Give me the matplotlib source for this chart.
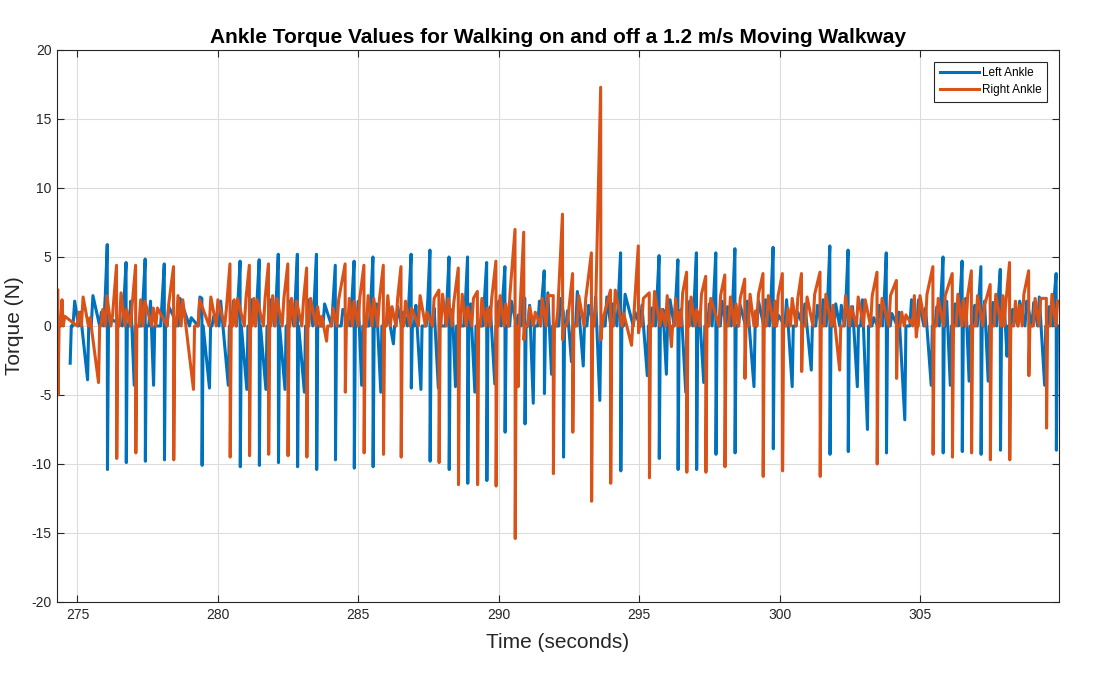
import numpy as np
import matplotlib.pyplot as plt

plt.rcParams['font.family'] = ['Liberation Sans', 'DejaVu Sans']
plt.rcParams['axes.unicode_minus'] = False

# Left ankle: big strokes (time, top, bottom), small dips, positive humps
left_spike_t = [276.06, 276.73, 277.41, 278.09, 279.43, 280.79, 281.47, 282.15, 282.83,
                283.51, 284.18, 284.85, 285.52, 286.88, 287.55, 288.23, 288.89, 289.57,
                290.22, 290.93, 291.62, 292.30, 294.34, 295.71, 296.38, 297.04, 297.73,
                298.41, 299.77, 301.79, 302.44, 303.80, 305.82, 306.50, 307.17, 307.86,
                309.85]
left_spike_top = [5.9, 4.6, 4.85, 4.5, 2.0, 4.7, 4.8, 5.2, 5.2,
                  5.2, 4.4, 4.7, 5.0, 5.2, 5.5, 5.0, 5.0, 4.6,
                  4.3, 2.0, 4.0, 1.0, 5.3, 5.1, 4.8, 5.3, 5.3,
                  5.6, 5.7, 5.8, 5.5, 5.3, 5.0, 4.7, 4.3, 4.1,
                  3.8]
left_spike_bot = [-10.4, -9.9, -9.8, -9.7, -10.1, -10.2, -10.1, -9.9, -10.2,
                  -10.4, -9.7, -10.3, -10.2, -4.5, -9.8, -10.4, -11.4, -11.2,
                  -7.7, -7.1, -4.9, -9.5, -10.5, -9.6, -10.4, -10.4, -9.3,
                  -9.2, -8.9, -9.3, -9.1, -9.2, -9.2, -9.1, -9.3, -9.0,
                  -9.0]
left_dip_t = [274.74, 275.36, 277.02, 277.71, 279.70, 280.37, 281.03, 281.71, 282.39,
              283.08, 285.12, 285.80, 286.25, 287.23, 287.85, 288.46, 289.15, 289.86,
              291.23, 291.88, 292.59, 293.01, 293.60, 295.29, 295.97, 296.66, 297.30,
              299.09, 300.45, 301.13, 302.77, 303.13, 304.46, 305.40, 306.08, 306.75,
              307.43, 308.10, 309.44]
left_dip_v = [-2.7, -3.9, -4.3, -4.3, -4.5, -4.3, -4.6, -4.6, -4.6,
              -4.8, -4.3, -4.8, -1.3, -4.6, -4.5, -4.4, -4.8, -4.2,
              -5.6, -3.5, -2.6, -2.9, -5.4, -3.6, -3.5, -4.8, -4.1,
              -4.4, -4.4, -3.2, -4.4, -7.5, -6.8, -4.3, -4.3, -4.0,
              -4.0, -2.2, -4.3]
left_hump_t = [274.90, 275.10, 275.55, 275.85, 275.99, 276.20, 276.66, 276.90, 277.34,
               277.60, 278.02, 278.25, 278.65, 279.05, 279.36, 279.85, 280.10, 280.55,
               280.72, 281.20, 281.40, 281.88, 282.08, 282.55, 282.76, 283.25, 283.44,
               283.80, 284.11, 284.45, 284.78, 285.00, 285.45, 285.65, 286.05, 286.40,
               286.60, 286.81, 287.05, 287.48, 287.70, 288.16, 288.35, 288.82, 289.00,
               289.50, 289.70, 290.00, 290.15, 290.45, 290.70, 290.86, 291.10, 291.45,
               291.55, 291.75, 292.20, 292.45, 292.80, 293.20, 293.45, 293.85, 294.05,
               294.27, 294.50, 294.85, 295.10, 295.45, 295.64, 295.85, 296.10, 296.31,
               296.50, 296.80, 296.97, 297.15, 297.50, 297.66, 297.95, 298.15, 298.34,
               298.60, 298.85, 299.25, 299.50, 299.70, 299.95, 300.25, 300.65, 300.90,
               301.35, 301.55, 301.72, 302.00, 302.20, 302.37, 302.60, 302.95, 303.35,
               303.55, 303.73, 304.00, 304.25, 304.70, 304.95, 305.20, 305.60, 305.75,
               305.95, 306.25, 306.43, 306.63, 306.95, 307.10, 307.30, 307.60, 307.79,
               308.00, 308.30, 308.55, 308.80, 309.05, 309.25, 309.60, 309.78]
left_hump_v = [1.8, 1.0, 2.2, 1.0, 2.2, 0.5, 2.0, 1.8, 2.1,
               1.8, 2.0, 1.4, 2.0, 0.6, 2.1, 0.7, 1.8, 1.8,
               2.0, 1.9, 2.1, 1.9, 2.1, 1.8, 2.1, 1.9, 2.2,
               1.6, 2.0, 1.2, 2.1, 1.8, 2.0, 1.6, 1.0, 1.4,
               1.0, 2.2, 1.5, 2.1, 1.3, 1.9, 1.2, 2.0, 1.6,
               2.2, 1.4, 1.8, 2.2, 1.8, 0.8, 2.1, 1.5, 1.8,
               2.2, 2.4, 2.0, 1.1, 2.5, 1.5, 2.1, 2.1, 1.6,
               2.3, 2.3, 1.0, 1.5, 1.3, 2.2, 1.2, 1.9, 2.1,
               1.2, 1.8, 2.2, 1.0, 1.6, 2.3, 1.8, 1.4, 2.1,
               1.5, 1.8, 1.8, 1.9, 2.2, 0.8, 1.9, 1.0, 1.6,
               1.5, 1.9, 2.2, 1.6, 1.5, 2.1, 1.4, 1.9, 0.6,
               1.5, 2.0, 0.9, 1.0, 1.9, 1.9, 1.3, 1.4, 2.1,
               1.8, 1.6, 2.1, 2.0, 1.5, 2.0, 1.8, 1.7, 2.0,
               1.6, 1.2, 1.8, 1.8, 1.7, 2.1, 1.4, 2.1]

# Right ankle
right_spike_t = [274.30, 276.39, 277.07, 278.42, 280.43, 281.12, 281.80, 282.49, 283.16,
                 284.53, 285.20, 285.89, 286.52, 287.87, 288.56, 289.24, 289.90, 290.58,
                 290.89, 291.94, 292.27, 292.63, 293.30, 293.63, 293.98, 294.97, 295.36,
                 296.69, 297.37, 298.05, 298.76, 299.41, 300.10, 300.78, 301.44, 303.47,
                 304.16, 305.46, 306.15, 306.83, 307.50, 308.19, 308.87, 309.50]
right_spike_top = [2.6, 4.4, 4.4, 4.3, 4.5, 4.4, 4.5, 4.5, 4.2,
                   4.5, 4.4, 4.4, 4.3, 2.6, 4.2, 2.5, 4.7, 7.0,
                   6.8, 2.2, 8.1, 3.8, 5.3, 17.3, 2.6, 5.8, 2.4,
                   3.9, 3.6, 3.7, 3.4, 3.8, 3.8, 3.8, 3.9, 3.9,
                   3.3, 4.3, 3.8, 4.0, 3.0, 4.6, 4.0, 2.0]
right_spike_bot = [-5.0, -9.6, -9.2, -9.7, -9.5, -9.4, -9.3, -9.4, -9.5,
                   -4.8, -9.2, -9.3, -9.5, -9.9, -11.5, -11.5, -11.6, -15.4,
                   -1.0, -10.7, -1.0, -7.7, -12.7, -1.0, -11.4, -0.5, -11.0,
                   -10.6, -10.6, -10.2, -3.8, -10.9, -10.5, -3.3, -10.9, -10.0,
                   -3.8, -9.3, -9.5, -9.2, -9.7, -9.7, -3.6, -7.4]
right_dip_t = [275.75, 279.13, 283.87, 290.69, 294.73, 296.15, 302.14, 304.87]
right_dip_v = [-4.1, -4.6, -1.1, -4.4, -1.4, -1.5, -3.2, -0.8]
right_hump_t = [274.45, 274.55, 275.05, 275.20, 275.45, 275.90, 276.05, 276.25, 276.55,
                276.75, 276.95, 277.25, 277.40, 277.70, 277.85, 278.25, 278.58, 278.75,
                279.35, 279.75, 280.00, 280.30, 280.58, 280.70, 281.00, 281.28, 281.40,
                281.68, 281.95, 282.10, 282.35, 282.62, 282.80, 283.05, 283.30, 283.55,
                283.70, 284.10, 284.30, 284.68, 284.85, 285.05, 285.35, 285.55, 285.75,
                286.05, 286.20, 286.40, 286.68, 286.90, 287.20, 287.45, 287.70, 288.00,
                288.20, 288.40, 288.70, 288.90, 289.10, 289.40, 289.60, 289.75, 290.05,
                290.25, 290.40, 291.10, 291.30, 291.55, 291.75, 292.10, 292.45, 292.85,
                293.10, 293.45, 293.75, 294.15, 294.45, 294.85, 295.15, 295.55, 295.80,
                296.00, 296.30, 296.45, 296.55, 296.85, 297.05, 297.22, 297.55, 297.90,
                298.25, 298.45, 298.60, 298.95, 299.15, 299.25, 299.60, 299.85, 299.95,
                300.30, 300.45, 300.65, 300.98, 301.25, 301.65, 301.90, 302.35, 302.55,
                302.80, 303.05, 303.30, 303.65, 303.95, 304.35, 304.50, 304.80, 305.00,
                305.25, 305.65, 305.90, 306.35, 306.55, 306.70, 307.05, 307.30, 307.70,
                307.95, 308.05, 308.40, 308.55, 308.70, 309.10, 309.30, 309.70, 309.90]
right_hump_v = [1.9, 0.7, 1.0, 2.1, 0.6, 1.2, 2.2, 0.8, 2.4,
                1.2, 1.6, 1.9, 1.8, 1.3, 1.3, 1.6, 2.2, 1.9,
                1.9, 2.1, 1.9, 1.2, 1.9, 2.0, 2.0, 2.0, 1.9,
                2.0, 2.2, 2.0, 2.0, 2.0, 1.8, 1.9, 2.0, 1.4,
                0.7, 1.3, 1.9, 2.0, 1.8, 2.0, 2.2, 2.0, 1.9,
                2.2, 1.4, 2.0, 1.8, 1.3, 2.2, 1.0, 2.0, 2.3,
                2.0, 1.7, 2.3, 1.4, 2.0, 2.0, 1.3, 2.0, 2.2,
                1.6, 2.3, 1.4, 1.0, 2.0, 2.2, 1.0, 0.3, 2.2,
                2.0, 1.2, 0.8, 2.6, 0.9, 2.0, 2.0, 2.5, 1.2,
                2.2, 2.0, 1.0, 2.4, 2.1, 1.2, 2.3, 2.0, 2.2,
                2.1, 1.6, 2.0, 2.3, 1.1, 2.3, 2.2, 1.8, 2.2,
                1.3, 2.0, 2.0, 2.1, 2.3, 2.3, 1.5, 2.2, 1.4,
                2.1, 1.9, 2.2, 2.0, 2.2, 1.0, 0.8, 2.2, 2.2,
                2.3, 2.0, 2.2, 2.3, 1.9, 2.2, 2.2, 1.5, 2.3,
                2.2, 1.5, 1.8, 1.5, 2.3, 2.0, 2.0, 2.3, 1.8]


def build_trace(spike_t, spike_top, spike_bot, dip_t, dip_v, hump_t, hump_v):
    # stroke = top then bottom, signal back at 0 right after strokes and dips,
    # humps rise from the 0 baseline
    spike_t = np.array(spike_t)
    dip_t = np.array(dip_t)
    hump_t = np.array(hump_t)
    t = np.concatenate([spike_t, spike_t + 0.008, spike_t + 0.045,
                        dip_t, dip_t + 0.04, hump_t - 0.06, hump_t])
    v = np.concatenate([spike_top, spike_bot, np.zeros(len(spike_t)),
                        dip_v, np.zeros(len(dip_t)), np.zeros(len(hump_t)), hump_v])
    order = np.argsort(t, kind='stable')
    return t[order], v[order]


lt, lv = build_trace(left_spike_t, left_spike_top, left_spike_bot,
                     left_dip_t, left_dip_v, left_hump_t, left_hump_v)
rt, rv = build_trace(right_spike_t, right_spike_top, right_spike_bot,
                     right_dip_t, right_dip_v, right_hump_t, right_hump_v)

fig = plt.figure(figsize=(11, 6.76), dpi=100)
ax = fig.add_axes([0.0518, 0.1095, 0.9109, 0.8166])

ax.plot(lt, lv, color='#0072BD', linewidth=2.2, label='Left Ankle')
ax.plot(rt, rv, color='#D95319', linewidth=2.2, label='Right Ankle')

ax.set_xlim(274.27, 309.95)
ax.set_ylim(-20, 20)
ax.set_xticks([275, 280, 285, 290, 295, 300, 305])
ax.set_yticks(np.arange(-20, 21, 5))
ax.grid(True, color='#dcdcdc', linewidth=0.8)
ax.set_axisbelow(True)
ax.tick_params(direction='in', top=True, right=True, labelsize=10, colors='#262626',
               length=5, pad=4)
for s in ax.spines.values():
    s.set_color('#262626')
    s.set_linewidth(0.8)

ax.set_title('Ankle Torque Values for Walking on and off a 1.2 m/s Moving Walkway',
             fontsize=15, fontweight='bold', pad=5)
ax.set_xlabel('Time (seconds)', fontsize=15, color='#262626', labelpad=8)
ax.set_ylabel('Torque (N)', fontsize=15, color='#262626')
ax.yaxis.set_label_coords(-0.033, 0.5)

leg = ax.legend(loc='upper right', fontsize=8.5, fancybox=False, framealpha=1,
                edgecolor='#262626', handlelength=3.3, borderaxespad=1.0,
                borderpad=0.45, labelspacing=0.45, handletextpad=0.3)
leg.get_frame().set_linewidth(0.8)

fig.savefig('out.png', dpi=100)
